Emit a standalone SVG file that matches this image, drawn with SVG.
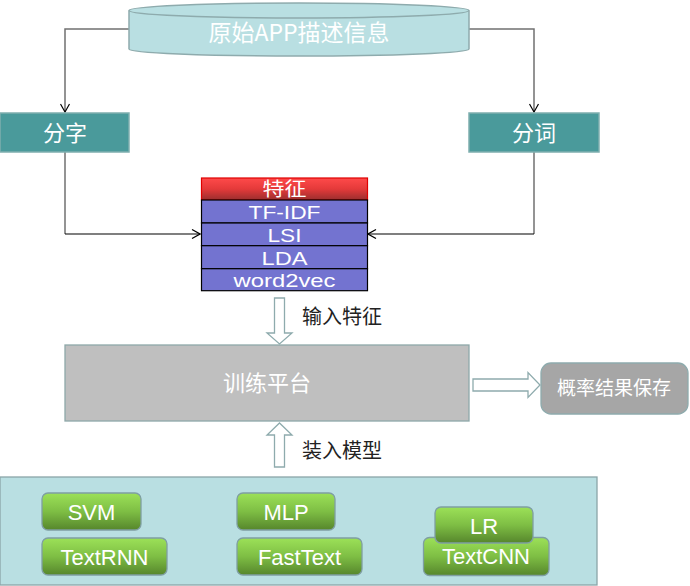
<svg xmlns="http://www.w3.org/2000/svg" width="690" height="586" viewBox="0 0 690 586">
<defs>
<marker id="open" viewBox="0 0 10 10" refX="9" refY="5" markerWidth="10" markerHeight="10" markerUnits="userSpaceOnUse" orient="auto">
<path d="M1,0.5 L9,5 L1,9.5" fill="none" stroke="#000" stroke-width="1.2"/>
</marker>
<linearGradient id="red" x1="0" y1="0" x2="0" y2="1">
<stop offset="0" stop-color="#FF4A4A"/>
<stop offset="0.5" stop-color="#E43A3A"/>
<stop offset="1" stop-color="#9A2E2E"/>
</linearGradient>
<linearGradient id="green" x1="0" y1="0" x2="0" y2="1">
<stop offset="0" stop-color="#9CE158"/>
<stop offset="0.5" stop-color="#7EBE44"/>
<stop offset="1" stop-color="#56862C"/>
</linearGradient>
<style>
.cjk{font-family:"Noto Sans CJK SC","Noto Sans",sans-serif;fill:#fff;text-anchor:middle}
.lat{font-family:"Liberation Sans",Arial,sans-serif;fill:#fff;text-anchor:middle;font-size:22px}
.tab{font-family:"Liberation Sans",Arial,sans-serif;fill:#fff;text-anchor:middle;font-size:19px}
.lbl{font-family:"Noto Sans CJK SC","Noto Sans",sans-serif;fill:#222;font-size:20px}
.teal{fill:#4A9A9B;stroke:#7FAEAF;stroke-width:1.5}
.row{fill:#7373D0;stroke:#000;stroke-width:1.2}
.btn{fill:url(#green);stroke:#7F9FA2;stroke-width:1.3}
.hollow{fill:#fff;stroke:#8EABAD;stroke-width:1.3}
.gline{fill:none;stroke:#707070;stroke-width:1.5}
.bline{fill:none;stroke:#000;stroke-width:1.2}
</style>
</defs>

<g id="connectors">
<path class="gline" d="M129,29 H65 V112" marker-end="url(#open)"/>
<path class="gline" d="M469,29 H534 V112" marker-end="url(#open)"/>
<path class="gline" d="M65,152 V234"/>
<path class="bline" d="M65,234 H200" marker-end="url(#open)"/>
<path class="gline" d="M534,152 V234"/>
<path class="bline" d="M534,234 H368" marker-end="url(#open)"/>
<path id="arrow-input" class="hollow" d="M274.5,298 H284.5 V333 H292 L279.5,344 L267,333 H274.5 Z"/>
<path id="arrow-load" class="hollow" d="M274.5,467 H284.5 V435 H292 L279.5,423 L267,435 H274.5 Z"/>
<path id="arrow-save" class="hollow" d="M473,379 H528 V372.5 L540,385 L528,397.5 V391 H473 Z"/>
</g>

<g id="source">
<path d="M129,10.5 V49 A170,7 0 0 0 469,49 V10.5" fill="#B9DFE2" stroke="#8EABAD" stroke-width="1.5"/>
<ellipse cx="299" cy="10.5" rx="170" ry="7.5" fill="#B9DFE2" stroke="#8EABAD" stroke-width="1.5"/>
<text class="cjk" x="299" y="41" font-size="23">原始APP描述信息</text>
</g>

<g id="fenzi">
<rect class="teal" x="0" y="113" width="129" height="39"/>
<text class="cjk" x="65" y="141" font-size="22">分字</text>
</g>

<g id="fenci">
<rect class="teal" x="469" y="113" width="130" height="39"/>
<text class="cjk" x="534" y="141" font-size="22">分词</text>
</g>

<g id="features">
<rect x="201.5" y="178" width="166" height="22" fill="url(#red)" stroke="#E00000" stroke-width="1.2"/>
<text class="cjk" x="284.5" y="196" font-size="19" textLength="44" lengthAdjust="spacingAndGlyphs">特征</text>
<rect class="row" x="201.5" y="200" width="166" height="23"/>
<text class="tab" x="284.5" y="218.5" textLength="72" lengthAdjust="spacingAndGlyphs">TF-IDF</text>
<rect class="row" x="201.5" y="223" width="166" height="22.7"/>
<text class="tab" x="284.5" y="241.5" textLength="34" lengthAdjust="spacingAndGlyphs">LSI</text>
<rect class="row" x="201.5" y="245.7" width="166" height="23"/>
<text class="tab" x="284.5" y="264.5" textLength="46" lengthAdjust="spacingAndGlyphs">LDA</text>
<rect class="row" x="201.5" y="268.7" width="166" height="22"/>
<text class="tab" x="284.5" y="286.5" textLength="102" lengthAdjust="spacingAndGlyphs">word2vec</text>
</g>

<g id="label-input">
<text class="lbl" x="302" y="324">输入特征</text>
</g>

<g id="platform">
<rect x="65" y="345" width="404" height="76" fill="#BFBFBF" stroke="#8EA8A9" stroke-width="1.3"/>
<text class="cjk" x="267" y="391" font-size="22">训练平台</text>
</g>

<g id="save">
<rect x="541" y="363" width="147" height="51" rx="10" fill="#A6A6A6" stroke="#8EABAD" stroke-width="1.3"/>
<text class="cjk" x="614" y="395" font-size="19">概率结果保存</text>
</g>

<g id="label-load">
<text class="lbl" x="302" y="458">装入模型</text>
</g>

<g id="models">
<rect x="0" y="477" width="597" height="108" fill="#B9DFE2" stroke="#8AA5A8" stroke-width="1.3"/>
<g id="svm">
<rect class="btn" x="42" y="493" width="99" height="37" rx="6"/>
<text class="lat" x="91.5" y="519.5">SVM</text>
</g>
<g id="textrnn">
<rect class="btn" x="42" y="538" width="125" height="37" rx="6"/>
<text class="lat" x="104.5" y="564.5">TextRNN</text>
</g>
<g id="mlp">
<rect class="btn" x="237" y="493" width="98" height="37" rx="6"/>
<text class="lat" x="286" y="519.5">MLP</text>
</g>
<g id="fasttext">
<rect class="btn" x="237" y="538" width="125" height="37" rx="6"/>
<text class="lat" x="299.5" y="564.5">FastText</text>
</g>
<g id="textcnn">
<rect class="btn" x="423.5" y="537.5" width="125.5" height="38" rx="6"/>
<text class="lat" x="486" y="564">TextCNN</text>
</g>
<g id="lr">
<rect class="btn" x="435" y="507" width="98" height="36" rx="6"/>
<text class="lat" x="484" y="534">LR</text>
</g>
</g>
</svg>
